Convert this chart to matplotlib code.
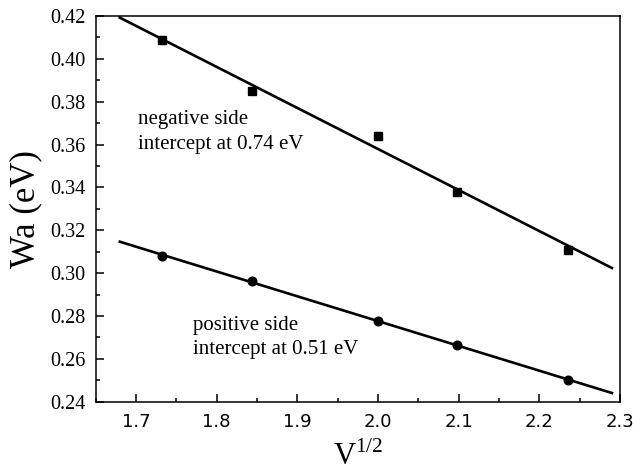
import numpy as np
from matplotlib import pyplot as plt
from matplotlib.ticker import MultipleLocator

# V values 3, 3.4, 4, 4.4, 5 -> sqrt
v_sqrt = [1.732, 1.844, 2.000, 2.098, 2.236]
wa_negative = [0.409, 0.385, 0.364, 0.338, 0.311]
wa_positive = [0.308, 0.2965, 0.2775, 0.2665, 0.250]

fit_range = [1.68, 2.29]

SERIF = "Liberation Serif"
SANS = "DejaVu Sans"

fig = plt.figure(figsize=(6.33, 4.72), dpi=100)
ax = fig.add_axes([0.151, 0.149, 0.8285, 0.817])

for wa, marker, ms in ((wa_negative, "s", 5.8), (wa_positive, "o", 6.2)):
    k, b = np.polyfit(v_sqrt, wa, 1)
    xs = np.array(fit_range)
    ax.plot(xs, k * xs + b, color="black", lw=1.9, zorder=2)
    ax.plot(v_sqrt, wa, linestyle="none", marker=marker, ms=ms, color="black", zorder=3)

ax.set_xlim(1.65, 2.3)
ax.set_ylim(0.24, 0.42)
ax.xaxis.set_major_locator(MultipleLocator(0.1))
ax.xaxis.set_minor_locator(MultipleLocator(0.05))
ax.yaxis.set_major_locator(MultipleLocator(0.02))
ax.yaxis.set_minor_locator(MultipleLocator(0.01))
ax.xaxis.set_major_formatter(plt.FormatStrFormatter("%.1f"))
ax.yaxis.set_major_formatter(plt.FormatStrFormatter("%.2f"))

ax.tick_params(which="both", direction="in", top=False, right=False, width=1.1)
ax.tick_params(which="major", length=6)
ax.tick_params(which="minor", length=3)
ax.tick_params(axis="x", pad=8)
ax.tick_params(axis="y", pad=7)
for lab in ax.get_xticklabels():
    lab.set_fontfamily(SANS)
    lab.set_fontsize(13)
for lab in ax.get_yticklabels():
    lab.set_fontfamily(SERIF)
    lab.set_fontsize(14.5)
for sp in ax.spines.values():
    sp.set_linewidth(1.1)

ax.set_ylabel("Wa (eV)", fontfamily=SERIF, fontsize=25, labelpad=6)
ax.set_xlabel(r"V$^{\mathregular{1/2}}$", fontfamily=SERIF, fontsize=22, labelpad=8)

ax.text(1.7027, 0.366, "negative side\nintercept at 0.74 eV", fontfamily=SERIF,
        fontsize=15, va="center", ha="left", linespacing=1.4)
ax.text(1.7712, 0.2700, "positive side\nintercept at 0.51 eV", fontfamily=SERIF,
        fontsize=15, va="center", ha="left", linespacing=1.4)

fig.savefig("out.png", dpi=100)
